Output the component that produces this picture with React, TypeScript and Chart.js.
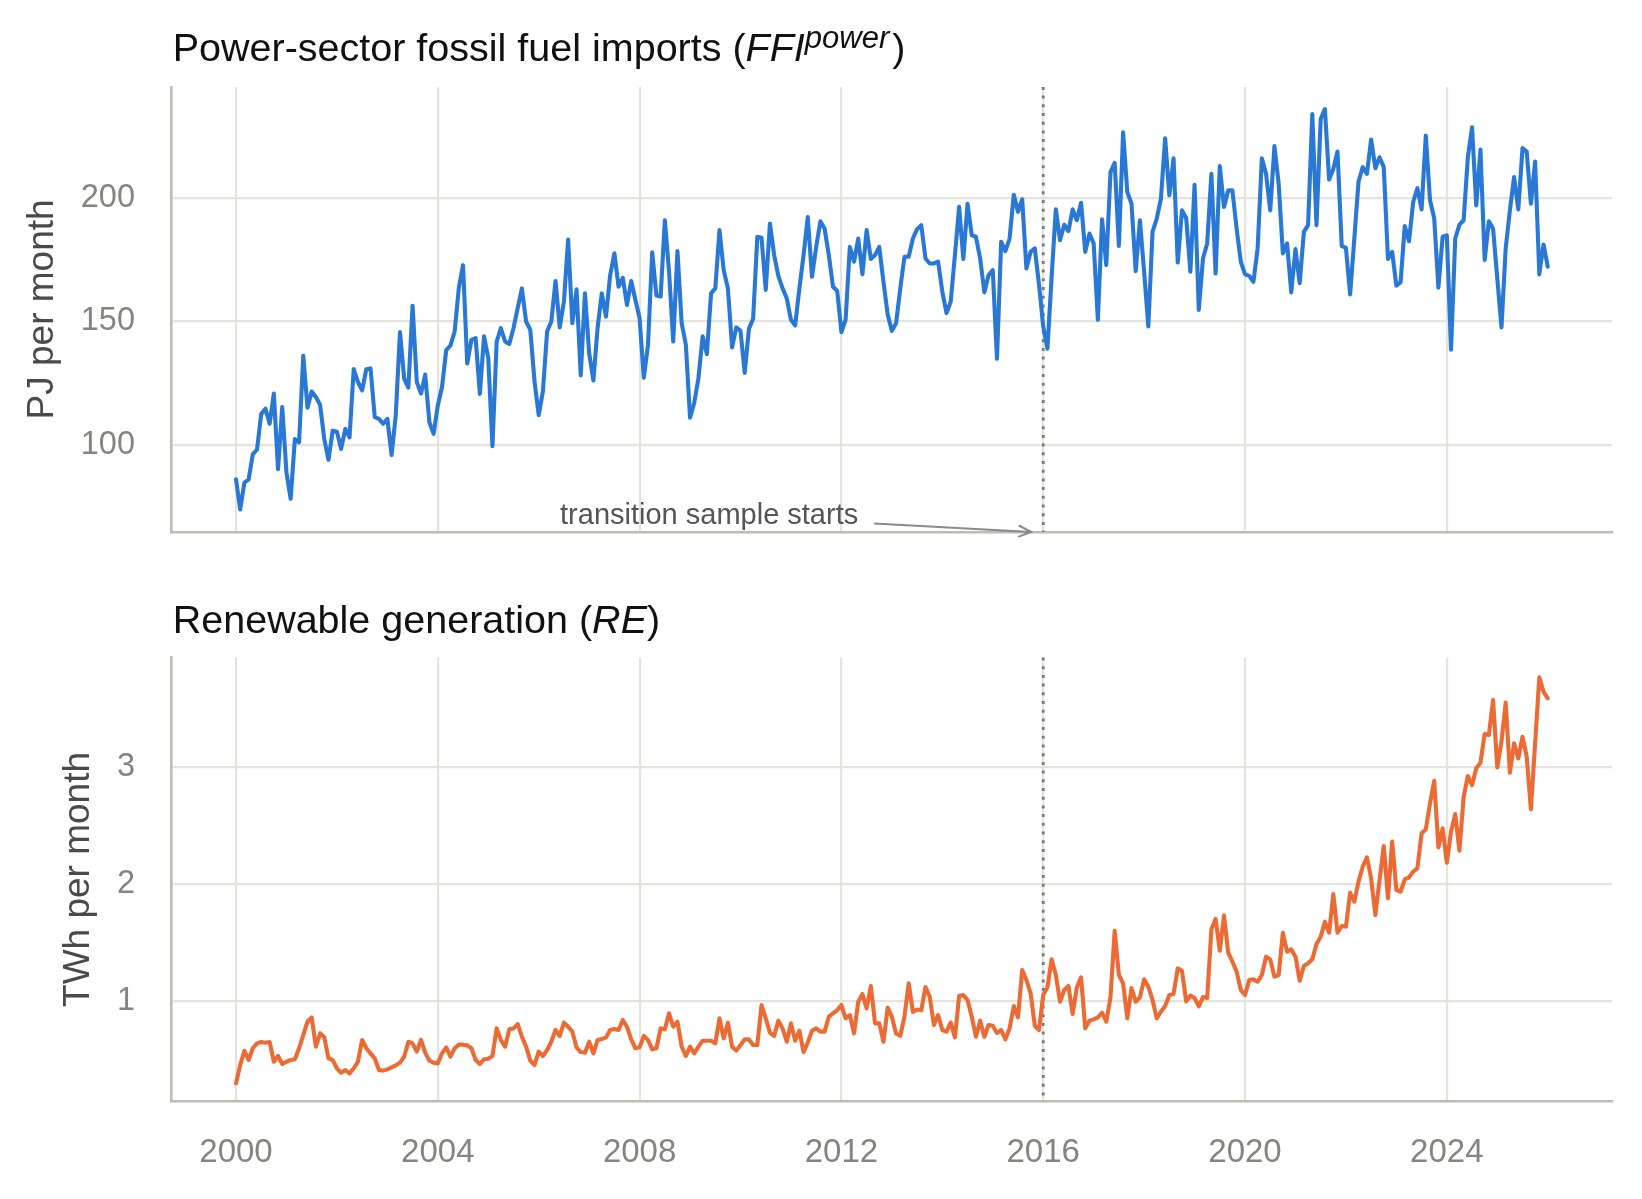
import React, { useEffect, useRef } from 'react';
import { Chart, registerables } from 'chart.js';

Chart.register(...registerables);

// monthly series, Jan 2000 .. Jan 2026
const START_YEAR = 2000;
const TRANSITION_YEAR = 2016;
const YEAR_TICKS = [2000, 2004, 2008, 2012, 2016, 2020, 2024];
const FFI_TICKS = [100, 150, 200];
const RE_TICKS = [1, 2, 3];

// power-sector fossil fuel imports, PJ per month
const ffiPower = [
  86.1, 73.9, 84.8, 86.1, 96.3, 98.1, 112.6, 114.7, 108.6, 120.8,
  90.2, 115.4, 88.8, 78.2, 102.4, 101.1, 136.1, 115.1, 121.7, 119.4,
  116.3, 102.4, 94.0, 105.8, 105.4, 98.4, 106.5, 103.1, 130.7, 125.5,
  122.1, 130.7, 131.0, 111.3, 110.6, 108.6, 110.6, 95.9, 112.0, 145.7,
  126.9, 123.2, 156.4, 125.5, 120.8, 128.5, 109.2, 104.5, 116.0, 123.5,
  138.4, 140.2, 145.9, 163.6, 172.8, 133.0,
  142.6, 143.3, 120.7, 144.0, 135.2, 99.5, 141.9, 147.3, 141.9, 140.9,
  147.3, 155.4, 163.4, 150.0, 146.6, 125.8, 112.1, 121.8, 146.0, 150.0,
  166.4, 147.6, 158.1, 183.2, 149.3, 163.0, 128.2, 161.4, 137.2, 126.1,
  147.3, 161.4, 152.0, 168.8, 177.6, 164.1, 167.7, 156.7, 166.4, 158.7,
  151.3, 127.2, 140.6, 178.0, 160.5, 160.1, 191.0, 170.2, 141.9, 178.5,
  149.3, 140.6, 111.0, 117.1, 127.2, 144.0, 136.8, 161.4, 163.4, 187.0,
  170.8, 163.4,
  139.5, 147.6, 146.2, 129.2, 147.0, 151.1, 184.3, 183.9, 162.8, 189.7,
  176.9, 168.5, 163.4, 159.4, 150.7, 148.4, 163.4, 176.9, 192.3, 168.1,
  180.2, 190.6, 187.6, 176.9, 164.1, 162.4, 145.7, 150.7, 180.2, 174.2,
  183.6, 169.1, 187.0, 175.3, 176.9, 180.2, 166.1, 152.9, 146.2, 149.3,
  163.4, 176.2, 176.2, 183.6, 187.4, 189.0, 175.5, 173.5, 173.5, 174.2,
  162.1, 153.4, 158.1, 176.9, 196.4, 175.3, 197.7, 184.9, 184.3, 175.5,
  161.8, 168.8, 170.8, 134.9,
  182.3, 178.5, 183.6, 201.3, 194.4, 199.5, 171.5, 178.2, 179.6, 165.0,
  148.0, 139.0, 168.0, 195.4, 182.9, 189.2, 186.6, 195.4, 191.0, 198.1,
  178.2, 185.6, 181.6, 150.7, 191.4, 172.9, 210.5, 214.2, 180.6, 226.6,
  202.4, 197.7, 170.4, 191.0, 170.2, 148.0, 186.3, 191.7, 199.7, 224.2,
  201.1, 216.1, 173.9, 195.0, 191.9, 170.2, 205.4, 154.7, 175.5, 181.6,
  209.8, 169.5, 212.9, 196.4, 203.1, 203.1, 187.6, 174.2,
  169.1, 168.5, 166.1, 179.6, 216.1, 209.8, 195.0, 221.0, 205.8, 177.6,
  181.6, 161.8, 179.3, 165.5, 186.3, 189.0, 234.0, 189.0, 232.0, 236.0,
  207.5, 211.8, 218.8, 180.6, 179.8, 161.0, 183.6, 206.7, 212.5, 209.8,
  223.7, 212.1, 216.5, 212.5, 175.3, 178.2, 164.5, 165.9, 188.7, 182.5,
  198.4, 204.0, 195.4, 225.3, 199.1, 191.7, 163.7, 184.3, 184.9, 138.6,
  183.6, 189.2, 191.0, 216.5, 228.6, 197.0, 219.6, 174.9, 190.6,
  187.6, 167.5, 147.6, 179.6, 195.0, 208.5, 195.4, 220.2, 218.8, 197.7,
  214.8, 169.1, 181.2, 172.2,
];

// renewable generation, TWh per month
const renewable = [
  0.297, 0.453, 0.575, 0.496, 0.596, 0.638, 0.650, 0.644, 0.650, 0.481,
  0.530, 0.462, 0.481, 0.496, 0.502, 0.596, 0.709, 0.823, 0.860, 0.610,
  0.724, 0.690, 0.510, 0.496, 0.425, 0.387, 0.410, 0.382, 0.425, 0.481,
  0.667, 0.596, 0.553, 0.510, 0.410, 0.405, 0.416, 0.433, 0.450, 0.473,
  0.524, 0.652, 0.638, 0.567, 0.667, 0.559, 0.490, 0.473, 0.467, 0.553,
  0.604, 0.524, 0.596, 0.627, 0.627, 0.621, 0.596, 0.496, 0.462, 0.502,
  0.507, 0.530, 0.766, 0.667, 0.610, 0.758, 0.766, 0.803, 0.695, 0.610,
  0.490, 0.453, 0.567, 0.530,
  0.581, 0.652, 0.752, 0.701, 0.815, 0.780,
  0.738, 0.604, 0.564, 0.558, 0.652, 0.553, 0.667, 0.675, 0.689, 0.752,
  0.761, 0.752, 0.838, 0.780, 0.672, 0.596, 0.604, 0.701, 0.667, 0.587,
  0.596, 0.766, 0.758, 0.895, 0.780, 0.823, 0.610, 0.530, 0.610, 0.553,
  0.610, 0.661, 0.661, 0.661, 0.638, 0.852, 0.681, 0.815, 0.610, 0.576,
  0.624, 0.672, 0.672, 0.624, 0.624, 0.966, 0.852, 0.729, 0.701, 0.832,
  0.766, 0.652, 0.809, 0.661, 0.746, 0.564, 0.644, 0.746, 0.766, 0.738,
  0.738, 0.866, 0.895, 0.923, 0.966, 0.852, 0.880, 0.724,
  0.994, 1.060,
  0.937, 1.128, 0.809, 0.809, 0.652, 0.943, 0.866, 0.723, 0.703, 0.866,
  1.151, 0.906, 0.928, 0.920, 1.120, 1.037, 0.795, 0.880, 0.752, 0.738,
  0.815, 0.689, 1.043, 1.051, 1.009, 0.866, 0.695, 0.832, 0.695, 0.795,
  0.789, 0.726, 0.752, 0.672, 0.766, 0.957, 0.860, 1.265, 1.180, 1.066,
  0.789, 0.752, 1.051, 1.117, 1.356, 1.222, 0.994, 1.094, 1.128, 0.889,
  1.117, 1.202, 0.766, 0.832, 0.843, 0.860, 0.900, 0.823, 1.031, 1.601,
  1.222, 1.151, 0.852, 1.111, 0.994, 1.031, 1.185, 1.122, 1.009, 0.852,
  0.909, 0.957,
  1.051, 1.060, 1.279, 1.259, 0.997, 1.046, 1.026, 0.954,
  1.034, 1.026, 1.613, 1.701, 1.430, 1.730, 1.413, 1.336, 1.251, 1.094,
  1.051, 1.179, 1.185, 1.165, 1.222, 1.379, 1.356, 1.208, 1.222, 1.584,
  1.422, 1.441, 1.379, 1.174, 1.299, 1.322, 1.356, 1.487, 1.550, 1.678,
  1.584, 1.915, 1.584, 1.641, 1.635, 1.926, 1.849, 2.020, 2.148, 2.228,
  2.048, 1.735, 2.034, 2.325,
  1.878, 2.363, 1.949, 1.934, 2.040, 2.057,
  2.106, 2.134, 2.433, 2.467, 2.689, 2.883, 2.313, 2.476, 2.182, 2.447,
  2.598, 2.285, 2.746, 2.923, 2.846, 2.989, 3.037, 3.282, 3.273, 3.573,
  2.997, 3.217, 3.550, 2.952, 3.202, 3.074, 3.259, 3.088, 2.638, 3.202,
  3.766, 3.644, 3.587,
];

const FONT = '"Liberation Sans", Arial, Helvetica, sans-serif';
const GRID = '#e4e4dc';
const SPINE = '#bebdb3';
const TICK_TEXT = '#85847e';

type TitlePart = { text: string; italic?: boolean; sup?: boolean };

interface PanelProps {
  top: number;
  height: number;
  values: number[];
  color: string;
  yMin: number;
  yMax: number;
  yTicks: number[];
  plotTop: number;
  plotBottom: number;
  showYears: boolean;
  title: TitlePart[];
  titleBaseline: number;
  yLabel: string;
  yLabelX: number;
  note?: boolean;
}

const toPoints = (vals: number[]) =>
  vals.map((v, i) => ({ x: START_YEAR + i / 12, y: v }));

const Panel: React.FC<PanelProps> = (p) => {
  const canvasRef = useRef<HTMLCanvasElement>(null);
  const chartRef = useRef<Chart | null>(null);

  useEffect(() => {
    if (!canvasRef.current) return;
    if (chartRef.current) chartRef.current.destroy();

    const decor = {
      id: 'decor',
      beforeDatasetsDraw(chart: any) {
        const { ctx, chartArea, scales } = chart;
        const x = scales.x.getPixelForValue(TRANSITION_YEAR);
        ctx.save();
        ctx.strokeStyle = '#7a7a7a';
        ctx.lineWidth = 2.8;
        ctx.setLineDash([3, 5.7]);
        ctx.beginPath();
        ctx.moveTo(x, chartArea.top);
        ctx.lineTo(x, chartArea.bottom);
        ctx.stroke();
        ctx.restore();
      },
      afterDraw(chart: any) {
        const { ctx, chartArea, scales } = chart;
        ctx.save();
        // title
        let cx = chartArea.left + 1;
        ctx.fillStyle = '#111';
        ctx.textBaseline = 'alphabetic';
        ctx.textAlign = 'left';
        p.title.forEach((part) => {
          const size = part.sup ? 31 : 39.5;
          ctx.font = `${part.italic ? 'italic ' : ''}${size}px ${FONT}`;
          ctx.fillText(part.text, cx, p.titleBaseline - (part.sup ? 13 : 0));
          cx += ctx.measureText(part.text).width + (part.sup ? 3 : 0);
        });
        // y label
        ctx.save();
        ctx.translate(p.yLabelX, (chartArea.top + chartArea.bottom) / 2);
        ctx.rotate(-Math.PI / 2);
        ctx.font = `37px ${FONT}`;
        ctx.fillStyle = '#4a4a4a';
        ctx.textAlign = 'center';
        ctx.textBaseline = 'middle';
        ctx.fillText(p.yLabel, 0, 0);
        ctx.restore();
        // annotation
        if (p.note) {
          const tipX = scales.x.getPixelForValue(TRANSITION_YEAR) - 12;
          const tipY = chartArea.bottom;
          const sx = tipX - 157;
          const sy = tipY - 8.5;
          ctx.strokeStyle = '#8a8a8a';
          ctx.lineWidth = 2;
          ctx.beginPath();
          ctx.moveTo(sx, sy);
          ctx.lineTo(tipX, tipY);
          const a = Math.atan2(tipY - sy, tipX - sx);
          ctx.moveTo(tipX - 14 * Math.cos(a - 0.42), tipY - 14 * Math.sin(a - 0.42));
          ctx.lineTo(tipX, tipY);
          ctx.lineTo(tipX - 14 * Math.cos(a + 0.42), tipY - 14 * Math.sin(a + 0.42));
          ctx.stroke();
          ctx.font = `29px ${FONT}`;
          ctx.fillStyle = '#555';
          ctx.textAlign = 'right';
          ctx.textBaseline = 'alphabetic';
          ctx.fillText('transition sample starts', sx - 16, tipY - 8);
        }
        ctx.restore();
      },
    };

    chartRef.current = new Chart(canvasRef.current, {
      type: 'line',
      data: {
        datasets: [
          {
            data: toPoints(p.values),
            borderColor: p.color,
            borderWidth: 4.1,
            borderJoinStyle: 'round',
            borderCapStyle: 'round',
            pointRadius: 0,
            tension: 0,
            fill: false,
          },
        ],
      },
      options: {
        responsive: false,
        animation: false,
        events: [],
        layout: { padding: { top: p.plotTop, right: 30, left: 0, bottom: 0 } },
        plugins: {
          legend: { display: false },
          tooltip: { enabled: false },
        },
        scales: {
          x: {
            type: 'linear',
            min: 1998.7255,
            max: 2027.274,
            afterBuildTicks: (s: any) => {
              s.ticks = YEAR_TICKS.map((v) => ({ value: v }));
            },
            afterFit: (s: any) => {
              s.height = p.height - p.plotBottom;
              s.paddingLeft = 0;
              s.paddingRight = 0;
            },
            grid: { color: GRID, lineWidth: 2.2, drawTicks: false },
            border: { color: SPINE, width: 2.6 },
            ticks: {
              display: p.showYears,
              maxRotation: 0,
              padding: 32,
              color: TICK_TEXT,
              font: { family: FONT, size: 33 },
              callback: (v: any) => String(v),
            },
          },
          y: {
            type: 'linear',
            min: p.yMin,
            max: p.yMax,
            afterBuildTicks: (s: any) => {
              s.ticks = p.yTicks.map((v) => ({ value: v }));
            },
            afterFit: (s: any) => {
              s.width = 171.7;
              s.paddingTop = 0;
              s.paddingBottom = 0;
            },
            grid: { color: GRID, lineWidth: 2.2, drawTicks: false },
            border: { color: SPINE, width: 2.6 },
            ticks: {
              padding: 36.7,
              color: TICK_TEXT,
              font: { family: FONT, size: 32.5 },
              callback: (v: any) => String(v),
            },
          },
        },
      },
      plugins: [decor],
    });

    return () => {
      if (chartRef.current) {
        chartRef.current.destroy();
        chartRef.current = null;
      }
    };
  }, [p]);

  return (
    <canvas
      ref={canvasRef}
      width={1642}
      height={p.height}
      style={{ position: 'absolute', left: 0, top: p.top, display: 'block' }}
    />
  );
};

const topPanel: PanelProps = {
  top: 0,
  height: 580,
  values: ffiPower,
  color: '#2a78d6',
  yMin: 64.8,
  yMax: 245.0,
  yTicks: FFI_TICKS,
  plotTop: 86.9,
  plotBottom: 531.9,
  showYears: false,
  title: [
    { text: 'Power-sector fossil fuel imports (' },
    { text: 'FFI', italic: true },
    { text: 'power', italic: true, sup: true },
    { text: ')' },
  ],
  titleBaseline: 61,
  yLabel: 'PJ per month',
  yLabelX: 43,
  note: true,
};

const bottomPanel: PanelProps = {
  top: 580,
  height: 619,
  values: renewable,
  color: '#ec6a34',
  yMin: 0.142,
  yMax: 3.936,
  yTicks: RE_TICKS,
  plotTop: 77.5,
  plotBottom: 521.4,
  showYears: true,
  title: [
    { text: 'Renewable generation (' },
    { text: 'RE', italic: true },
    { text: ')' },
  ],
  titleBaseline: 53,
  yLabel: 'TWh per month',
  yLabelX: 79,
};

export default function App() {
  return (
    <div
      style={{
        position: 'absolute',
        left: 0,
        top: 0,
        width: 1642,
        height: 1199,
        background: '#fff',
        overflow: 'hidden',
      }}
    >
      <Panel {...topPanel} />
      <Panel {...bottomPanel} />
    </div>
  );
}
